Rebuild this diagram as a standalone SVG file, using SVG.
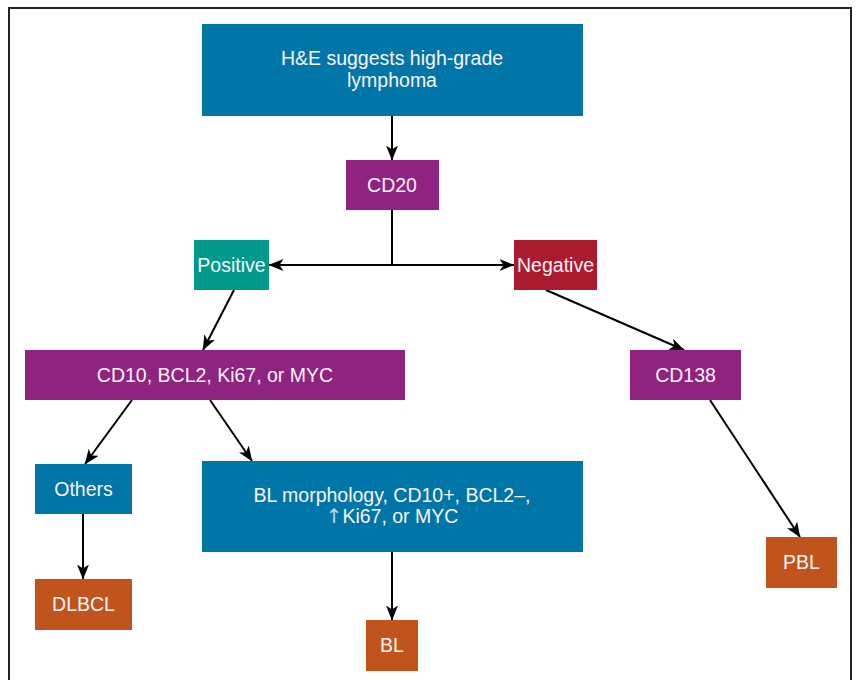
<svg xmlns="http://www.w3.org/2000/svg" width="856" height="680" viewBox="0 0 856 680">
<defs>
<marker id="arr" viewBox="0 0 15 12" refX="14.5" refY="6" markerWidth="15" markerHeight="12" markerUnits="userSpaceOnUse" orient="auto">
<path d="M0,0 L15,6 L0,12 L4,6 Z" fill="#000"/>
</marker>
<marker id="arrs" viewBox="0 0 15 12" refX="14.5" refY="6" markerWidth="15" markerHeight="12" markerUnits="userSpaceOnUse" orient="auto-start-reverse">
<path d="M0,0 L15,6 L0,12 L4,6 Z" fill="#000"/>
</marker>
</defs>
<style>
.t{font-family:"Liberation Sans",Arial,sans-serif;font-size:19.5px;fill:#fbf3f7;text-anchor:middle}
.blue{fill:#0076a8}
.purple{fill:#8f2380}
.teal{fill:#00998c}
.red{fill:#ab1a2e}
.orange{fill:#c1531c}
.c{stroke:#000;stroke-width:2;fill:none}
</style>
<rect width="856" height="680" fill="#fff"/>
<rect x="9" y="8" width="842" height="700" fill="none" stroke="#222" stroke-width="2"/>
<g id="connectors">
<line class="c" x1="392" y1="116" x2="392" y2="160" marker-end="url(#arr)"/>
<line class="c" x1="392" y1="210" x2="392" y2="265"/>
<line class="c" x1="269" y1="265" x2="514" y2="265" marker-start="url(#arrs)" marker-end="url(#arr)"/>
<line class="c" x1="234" y1="290" x2="203" y2="350" marker-end="url(#arr)"/>
<line class="c" x1="546" y1="290" x2="684" y2="350" marker-end="url(#arr)"/>
<line class="c" x1="132" y1="400" x2="85" y2="464" marker-end="url(#arr)"/>
<line class="c" x1="210" y1="400" x2="252" y2="461" marker-end="url(#arr)"/>
<line class="c" x1="710" y1="400" x2="800" y2="537" marker-end="url(#arr)"/>
<line class="c" x1="83" y1="514" x2="83" y2="579" marker-end="url(#arr)"/>
<line class="c" x1="392" y1="552" x2="392" y2="620" marker-end="url(#arr)"/>
</g>
<g id="he">
<rect class="blue" x="202" y="24" width="381" height="92"/>
<text class="t" x="392" y="65">H&amp;E suggests high-grade</text>
<text class="t" x="392" y="87">lymphoma</text>
</g>
<g id="cd20">
<rect class="purple" x="346" y="160" width="93" height="50"/>
<text class="t" x="392" y="192">CD20</text>
</g>
<g id="positive">
<rect class="teal" x="194" y="240" width="75" height="50"/>
<text class="t" x="231.5" y="272">Positive</text>
</g>
<g id="negative">
<rect class="red" x="514" y="240" width="83" height="50"/>
<text class="t" x="555.5" y="272">Negative</text>
</g>
<g id="cd10">
<rect class="purple" x="25" y="350" width="380" height="50"/>
<text class="t" x="215" y="382">CD10, BCL2, Ki67, or MYC</text>
</g>
<g id="cd138">
<rect class="purple" x="630" y="350" width="111" height="50"/>
<text class="t" x="685.5" y="382">CD138</text>
</g>
<g id="others">
<rect class="blue" x="35" y="464" width="97" height="50"/>
<text class="t" x="83.5" y="496">Others</text>
</g>
<g id="blmorph">
<rect class="blue" x="202" y="461" width="381" height="91"/>
<text class="t" x="392" y="502">BL morphology, CD10+, BCL2–,</text>
<text class="t" x="392" y="523"><tspan fill="#b9dcec" font-family="DejaVu Sans" font-size="20">↑</tspan>Ki67, or MYC</text>
</g>
<g id="dlbcl">
<rect class="orange" x="35" y="579" width="97" height="51"/>
<text class="t" x="83.5" y="611">DLBCL</text>
</g>
<g id="bl">
<rect class="orange" x="366" y="620" width="52" height="51"/>
<text class="t" x="392" y="652">BL</text>
</g>
<g id="pbl">
<rect class="orange" x="766" y="537" width="71" height="51"/>
<text class="t" x="801.5" y="569">PBL</text>
</g>
</svg>
